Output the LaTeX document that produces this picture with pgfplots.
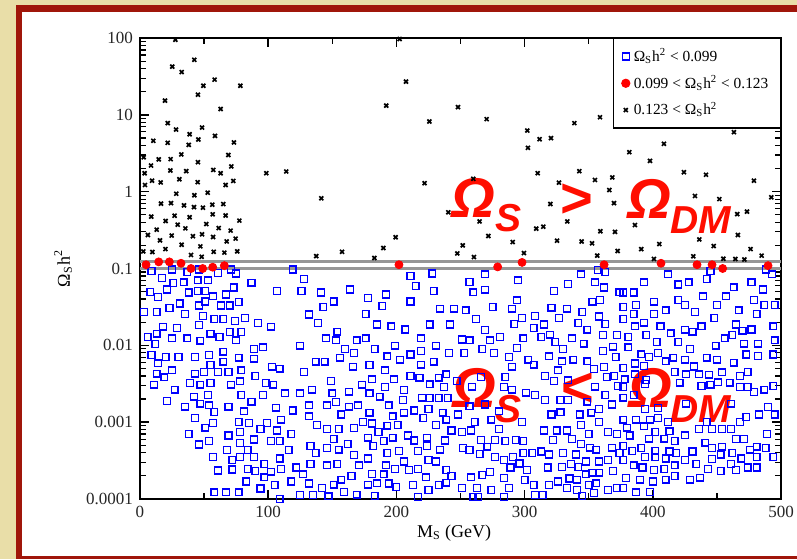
\documentclass[border=0pt]{standalone}
\usepackage{fontspec}
\setmainfont{Liberation Serif}
\newfontfamily\bigsans{Liberation Sans}
\usepackage{pgfplots}
\pgfplotsset{compat=1.18}
\definecolor{beige}{RGB}{233,222,168}
\definecolor{framered}{RGB}{160,22,10}
\definecolor{bigred}{RGB}{255,14,0}
\definecolor{linegray}{RGB}{150,150,150}
\begin{document}
\begin{tikzpicture}
\fill[beige] (0,0) rectangle (398.5pt,279.5pt);
\fill[framered] (8pt,0) rectangle (398.5pt,277pt);
\fill[white] (11pt,1.5pt) rectangle (398.5pt,273.5pt);
\begin{axis}[
  at={(70pt,30pt)}, anchor=south west,
  scale only axis, width=320.5pt, height=230.5pt,
  xmin=0, xmax=500, ymin=1e-4, ymax=100, ymode=log,
  xtick={0,100,200,300,400,500}, xticklabels={0,100,200,300,400,500},
  minor xtick={50,150,250,350,450},
  ytick={1e-4,1e-3,1e-2,1e-1,1,10,100},
  yticklabels={0.0001,0.001,0.01,0.1,1,10,100},
  minor ytick={2e-4,3e-4,4e-4,5e-4,6e-4,7e-4,8e-4,9e-4,2e-3,3e-3,4e-3,5e-3,6e-3,7e-3,8e-3,9e-3,0.02,0.03,0.04,0.05,0.06,0.07,0.08,0.09,0.2,0.3,0.4,0.5,0.6,0.7,0.8,0.9,2,3,4,5,6,7,8,9,20,30,40,50,60,70,80,90},
  tick align=inside, tick pos=both,
  major tick length=4.5pt, minor tick length=3pt,
  major tick style={black, line width=0.8pt},
  minor tick style={black, line width=0.6pt},
  axis line style={line width=1pt},
  tick label style={font=\fontsize{8.5}{9}\selectfont, text=black!85},
  xlabel={M\textsubscript{S} (GeV)},
  ylabel={Ω\textsubscript{S}h\textsuperscript{2}},
  every axis x label/.style={at={(axis description cs:0.49,-0.074)}, anchor=center, font=\fontsize{9}{10}\selectfont},
  every axis y label/.style={at={(axis description cs:-0.12,0.5)}, rotate=90, anchor=center, font=\fontsize{9}{10}\selectfont},
  legend style={at={(1,1)}, anchor=north east, draw=black, line width=0.6pt, font=\fontsize{7.7}{8}\selectfont, row sep=1.5pt, inner xsep=4pt, inner ysep=3pt},
  legend cell align=left,
]
\addplot[forget plot, linegray, line width=1.4pt] coordinates {(0,0.099) (500,0.099)};
\addplot[forget plot, linegray, line width=1.4pt] coordinates {(0,0.123) (500,0.123)};
% blue: Omega h^2 < 0.099
\addplot[only marks, mark=square, mark size=1.7pt, blue, mark options={line width=0.65pt}] coordinates {
(9,9.23e-2) (25,9.7e-2) (37,9.0e-2) (46,9.7e-2) (61,8.79e-2) (71,9.7e-2) (75,8.6e-2) (119,9.7e-2)
(17,7.57e-2) (26,6.44e-2) (34,6.6e-2) (45,7.0e-2) (53,7.0e-2) (87,6.55e-2)
(8,4.92e-2) (14,4.28e-2) (21,5.33e-2) (38,4.87e-2) (45,5.07e-2) (51,5.07e-2) (57,4.33e-2) (67,4.59e-2) (73,5.66e-2) (107,5.07e-2)
(23,3.08e-2) (31,3.5e-2) (46,3.3e-2) (51,3.72e-2) (63,3.3e-2) (70,3.3e-2) (77,3.65e-2)
(3,2.7e-2) (13,2.7e-2) (35,2.57e-2) (49,2.42e-2) (58,2.19e-2) (65,2.19e-2) (74,2.08e-2) (82,2.28e-2) (92,1.96e-2) (102,1.75e-2)
(18,1.75e-2) (29,1.67e-2) (46,1.85e-2)
(6,1.29e-2) (13,1.42e-2) (25,1.23e-2) (37,1.23e-2) (47,1.15e-2) (55,1.42e-2) (62,1.29e-2) (70,1.5e-2) (75,1.16e-2) (79,1.5e-2)
(12,1.04e-2) (89,8.97e-3) (96,9.4e-3)
(9,7.5e-3) (20,7.1e-3) (30,7.1e-3) (43,7.1e-3) (54,7.5e-3) (65,8.3e-3) (77,6.9e-3) (89,6.7e-3)
(14,5.83e-3) (55,5.55e-3) (65,6.13e-3) (103,5.28e-3) (109,4.97e-3)
(25,4.73e-3) (13,4.28e-3) (19,3.83e-3) (43,4.28e-3) (50,4.5e-3) (61,4.5e-3) (69,4.5e-3) (79,4.73e-3) (90,4.02e-3)
(11,3.08e-3) (39,3.24e-3) (47,3.08e-3) (55,3.24e-3) (71,3.08e-3) (78,3.4e-3) (98,3.24e-3) (104,3.08e-3)
(27,2.65e-3) (21,1.9e-3) (42,2.15e-3) (53,2.26e-3) (79,2.26e-3) (87,1.85e-3) (96,2.26e-3) (113,2.37e-3)
(35,1.59e-3) (47,1.74e-3) (54,1.66e-3) (58,1.36e-3) (69,1.59e-3) (81,1.38e-3) (106,1.55e-3) (119,1.42e-3)
(43,1.13e-3) (51,8.5e-4) (57,9.7e-4) (77,1.0e-3) (85,9.7e-4) (99,9.7e-4) (110,1.08e-3)
(38,7.06e-4) (69,6.7e-4) (78,7.5e-4) (94,8.1e-4) (107,7.8e-4) (118,6.98e-4)
(46,5.12e-4) (54,5.65e-4) (78,5.38e-4) (89,5.95e-4) (102,5.65e-4) (109,5.65e-4)
(84,4.37e-4) (68,4.37e-4) (116,4.37e-4)
(57,3.5e-4) (72,3.2e-4) (78,3.5e-4) (89,3.5e-4) (109,3.37e-4)
(61,2.35e-4) (72,2.42e-4) (84,2.45e-4) (90,2.3e-4) (97,2.87e-4) (102,2.27e-4) (110,2.45e-4) (122,2.57e-4)
(97,1.92e-4) (83,1.69e-4) (105,1.53e-4) (118,1.69e-4)
(58,1.22e-4) (67,1.22e-4) (77,1.22e-4) (94,1.37e-4)
(109,1.0e-4)
(128,7.35e-2) (126,5.07e-2) (141,4.87e-2) (164,5.33e-2) (192,4.59e-2) (178,4.11e-2) (151,3.72e-2) (143,3.14e-2) (132,2.52e-2) (139,1.96e-2) (176,2.57e-2) (189,3.24e-2) (211,3.72e-2) (211,8.0e-2) (215,5.9e-2) (228,8.6e-2) (229,5.07e-2) (234,3.0e-2) (245,3.0e-2)
(185,1.87e-2) (196,1.77e-2) (207,1.61e-2) (226,1.87e-2) (242,1.87e-2) (154,1.51e-2) (145,1.23e-2) (153,1.16e-2) (169,1.16e-2) (176,1.23e-2) (219,1.23e-2)
(125,9.9e-3) (160,8.97e-3) (167,8.0e-3) (183,8.97e-3) (199,9.9e-3) (231,9.9e-3) (219,8.4e-3) (211,7.6e-3) (241,8.0e-3) (156,6.9e-3) (193,7.2e-3) (137,6.13e-3) (144,6.13e-3) (203,6.5e-3) (229,6.13e-3)
(166,5.28e-3) (179,5.55e-3) (219,5.6e-3) (128,4.5e-3) (191,4.73e-3)
(149,3.43e-3) (173,3.08e-3) (181,3.6e-3) (198,3.6e-3) (211,4.0e-3) (218,3.8e-3) (233,3.8e-3) (239,4.2e-3) (247,3.45e-3) (226,3.1e-3) (237,2.85e-3)
(134,2.65e-3) (125,2.37e-3) (150,2.37e-3) (163,2.5e-3) (179,2.37e-3) (191,2.85e-3) (206,2.63e-3) (187,2.15e-3)
(153,1.83e-3) (132,1.66e-3) (146,1.66e-3) (163,1.59e-3) (170,1.66e-3) (194,1.66e-3) (205,1.95e-3) (220,2.08e-3) (226,2.06e-3) (233,2.06e-3) (240,2.06e-3)
(157,1.26e-3) (179,1.33e-3) (206,1.33e-3) (214,1.42e-3) (225,1.48e-3) (236,1.33e-3) (248,1.26e-3) (132,1.19e-3) (197,1.19e-3) (221,1.13e-3) (239,1.08e-3)
(138,9.23e-4) (146,8.2e-4) (155,8.2e-4) (167,8.45e-4) (174,1.0e-3) (181,9.6e-4) (193,9.0e-4) (201,9.23e-4) (186,7.4e-4) (231,9.23e-4) (243,7.8e-4)
(209,6.7e-4) (214,5.77e-4) (238,5.77e-4) (151,6.0e-4) (178,6.3e-4) (190,5.7e-4) (197,6.3e-4) (224,6.3e-4)
(133,4.92e-4) (137,3.98e-4) (146,4.6e-4) (155,4.4e-4) (162,5.17e-4) (182,4.87e-4) (202,4.2e-4) (217,4.2e-4) (224,4.92e-4) (234,4.4e-4)
(167,3.72e-4) (193,3.98e-4) (178,3.37e-4) (206,3.08e-4) (225,3.24e-4) (231,3.08e-4)
(133,2.87e-4) (146,2.75e-4) (154,2.87e-4) (171,2.75e-4) (192,2.75e-4) (199,2.45e-4) (210,2.37e-4) (217,2.45e-4) (239,2.37e-4)
(127,2.1e-4) (165,2.0e-4) (181,2.12e-4) (190,2.1e-4) (223,1.92e-4) (243,1.98e-4) (157,1.79e-4)
(132,1.59e-4) (151,1.54e-4) (178,1.54e-4) (185,1.6e-4) (194,1.59e-4) (213,1.53e-4) (233,1.53e-4) (239,1.63e-4)
(200,1.44e-4) (225,1.32e-4) (142,1.4e-4) (159,1.23e-4) (169,1.14e-4) (125,1.12e-4) (135,1.12e-4) (147,1.08e-4) (183,1.1e-4) (217,1.07e-4)
(269,8.4e-2) (257,6.7e-2) (260,4.9e-2) (269,5.3e-2) (295,7.0e-2) (294,3.85e-2) (275,3.14e-2) (290,3.0e-2) (254,2.85e-2) (262,2.2e-2) (298,2.28e-2) (308,2.42e-2) (292,1.9e-2) (269,1.58e-2) (307,1.69e-2) (315,1.87e-2)
(251,1.19e-2) (257,1.16e-2) (273,1.16e-2) (281,1.29e-2) (299,1.23e-2) (313,1.29e-2)
(253,7.94e-3) (276,8.0e-3) (267,8.97e-3) (294,9.3e-3) (288,7.1e-3) (303,6.5e-3) (307,5.6e-3) (290,5.28e-3)
(266,3.87e-3) (285,3.87e-3) (284,2.87e-3) (290,2.65e-3) (301,2.42e-3) (308,2.26e-3) (259,2.9e-3)
(257,1.61e-3) (269,1.7e-3) (280,1.38e-3) (298,1.0e-3) (261,1.0e-3) (274,1.08e-3)
(251,7.5e-4) (258,7.8e-4) (280,8.2e-4) (266,5.9e-4) (285,5.7e-4) (293,5.9e-4) (299,5.7e-4) (277,5.9e-4)
(252,4.6e-4) (257,4.37e-4) (265,3.85e-4) (271,4.8e-4) (277,3.5e-4) (284,3.24e-4) (291,3.5e-4) (296,2.9e-4) (299,4.0e-4) (306,3.95e-4)
(289,2.57e-4) (302,2.37e-4) (258,1.92e-4) (267,2.05e-4) (273,2.25e-4) (284,1.87e-4) (300,1.77e-4) (307,1.53e-4)
(251,1.4e-4) (263,1.4e-4) (274,1.32e-4) (288,1.4e-4) (260,1.07e-4) (264,1.07e-4) (284,1.07e-4) (308,1.12e-4) (314,1.12e-4)
(344,8.4e-2) (357,9.5e-2) (363,9.0e-2) (355,6.6e-2) (334,6.3e-2) (323,5.1e-2) (362,5.66e-2) (374,4.9e-2) (353,3.7e-2) (359,3.9e-2) (321,3.1e-2) (333,3.0e-2) (345,2.7e-2)
(327,2.28e-2) (358,2.37e-2) (342,1.96e-2) (349,1.6e-2) (363,1.9e-2) (320,1.38e-2) (324,1.1e-2) (330,8.97e-3) (337,1.23e-2) (346,1.05e-2) (361,1.37e-2) (372,1.37e-2) (369,9.6e-3) (361,8.4e-3) (371,7.1e-3)
(319,7.2e-3) (329,6.2e-3) (338,6.5e-3) (349,6.2e-3) (354,4.9e-3) (362,5.25e-3) (326,4.73e-3) (316,4.0e-3) (323,3.45e-3) (334,3.5e-3) (364,3.87e-3) (370,4.0e-3)
(355,2.9e-3) (363,2.26e-3) (373,2.95e-3) (328,1.95e-3) (334,1.95e-3) (349,1.85e-3) (358,1.48e-3) (368,1.7e-3) (316,1.93e-3)
(321,1.26e-3) (328,1.34e-3) (343,1.26e-3) (352,1.33e-3) (358,1.0e-3) (344,9.23e-4)
(315,7.8e-4) (325,7.8e-4) (333,7.8e-4) (350,7.06e-4) (365,7.4e-4) (372,7.06e-4)
(322,5.9e-4) (337,6.0e-4) (344,5.17e-4) (351,4.65e-4) (356,4.4e-4) (368,4.65e-4) (374,4.0e-4)
(313,4.15e-4) (319,3.8e-4) (330,4.0e-4) (340,3.8e-4) (348,3.08e-4) (358,3.08e-4) (365,3.24e-4) (336,2.87e-4) (342,2.6e-4) (318,2.57e-4) (329,2.6e-4)
(348,2.1e-4) (353,2.2e-4) (358,2.2e-4) (369,2.3e-4) (341,1.79e-4) (335,1.85e-4) (350,1.53e-4) (356,1.6e-4) (333,1.4e-4) (341,1.32e-4) (365,1.32e-4) (372,1.4e-4) (319,1.53e-4) (326,1.69e-4) (345,1.1e-4) (354,1.2e-4)
(412,8.4e-2) (445,9.3e-2) (488,9.7e-2) (493,8.4e-2) (393,6.6e-2) (420,6.2e-2) (428,6.6e-2) (442,7.3e-2) (477,6.6e-2) (463,5.7e-2) (486,5.33e-2) (377,4.87e-2) (385,4.87e-2) (439,4.33e-2) (457,4.33e-2)
(420,3.9e-2) (401,3.7e-2) (425,3.35e-2) (450,3.35e-2) (479,3.9e-2) (487,3.35e-2) (495,3.35e-2) (377,3.14e-2) (387,3.35e-2) (410,2.85e-2) (401,2.57e-2) (433,2.7e-2) (467,2.85e-2)
(377,2.19e-2) (385,2.57e-2) (448,2.28e-2) (481,2.57e-2) (393,1.98e-2) (406,1.77e-2) (425,1.6e-2) (431,1.51e-2) (438,1.77e-2) (465,1.87e-2) (470,1.55e-2) (477,1.61e-2) (494,1.77e-2) (386,1.77e-2) (414,1.43e-2)
(381,1.29e-2) (395,1.36e-2) (456,1.23e-2) (462,1.37e-2) (403,1.1e-2) (420,1.1e-2) (471,1.05e-2) (482,1.05e-2) (495,1.16e-2)
(449,9.9e-3) (381,9.4e-3) (429,8.97e-3) (391,7.65e-3) (397,7.0e-3) (404,8.0e-3) (410,6.2e-3) (416,6.9e-3) (425,6.5e-3) (442,6.9e-3) (450,6.5e-3) (463,5.95e-3) (473,7.6e-3) (482,7.23e-3) (494,7.6e-3)
(377,5.05e-3) (386,5.8e-3) (393,5.4e-3) (432,5.3e-3) (386,4.2e-3) (378,3.6e-3) (395,3.55e-3) (417,4.5e-3) (426,4.2e-3) (436,4.2e-3) (444,4.15e-3) (454,4.45e-3) (468,4.0e-3) (474,4.5e-3)
(421,3.27e-3) (438,2.95e-3) (445,3.08e-3) (451,3.3e-3) (460,3.27e-3) (468,2.85e-3) (474,2.85e-3) (494,2.95e-3) (377,2.85e-3) (394,3.15e-3)
(377,2.08e-3) (385,2.26e-3) (394,1.48e-3) (404,1.53e-3) (426,1.74e-3) (461,1.74e-3) (479,2.48e-3) (487,2.65e-3) (490,1.57e-3) (495,1.26e-3)
(377,1.08e-3) (387,1.08e-3) (398,1.08e-3) (404,1.13e-3) (412,1.0e-3) (442,1.0e-3) (468,1.0e-3) (473,1.17e-3) (483,1.26e-3)
(380,8.5e-4) (393,8.8e-4) (402,7.5e-4) (413,7.6e-4) (425,6.75e-4) (436,8.2e-4) (446,8.2e-4) (454,8.2e-4) (461,8.2e-4) (489,7.06e-4)
(382,6.7e-4) (397,6.1e-4) (409,6.1e-4) (417,5.7e-4) (441,5.4e-4) (465,6.0e-4) (471,6.0e-4)
(377,4.92e-4) (384,4.2e-4) (391,4.6e-4) (402,4.2e-4) (413,4.15e-4) (418,3.95e-4) (431,4.15e-4) (446,4.6e-4) (454,4.8e-4) (462,3.98e-4) (476,4.4e-4) (481,4.8e-4) (488,4.6e-4)
(377,3.2e-4) (394,3.5e-4) (402,3.5e-4) (410,3.37e-4) (425,3.24e-4) (434,2.87e-4) (446,3.3e-4) (453,3.8e-4) (469,3.37e-4) (481,3.5e-4) (494,3.5e-4)
(385,2.75e-4) (392,2.57e-4) (401,2.37e-4) (409,2.45e-4) (417,2.75e-4) (443,2.45e-4) (453,2.3e-4) (461,2.87e-4) (465,2.37e-4) (474,2.57e-4) (481,2.57e-4)
(379,1.87e-4) (390,1.79e-4) (400,1.69e-4) (410,1.79e-4) (417,1.98e-4) (429,1.79e-4) (437,1.9e-4)
(377,1.4e-4) (387,1.22e-4) (398,1.24e-4)
};
\addlegendentry{Ω\textsubscript{S}h\textsuperscript{2} < 0.099}
% red: 0.099 < Omega h^2 < 0.123
\addplot[only marks, mark=*, mark size=2pt, red, mark options={draw=red, fill=red}] coordinates {
(4.7,0.112) (14.6,0.122) (22.9,0.122) (32.0,0.117) (39.8,0.1) (48.9,0.1) (56.7,0.104) (65.8,0.109) (202.0,0.112) (279.0,0.105) (298.0,0.12) (362.0,0.112) (406.4,0.117) (434.5,0.112) (446.2,0.112) (454.5,0.1) (489.9,0.109)
};
\addlegendentry{0.099 < Ω\textsubscript{S}h\textsuperscript{2} < 0.123}
% black: 0.123 < Omega h^2
\addplot[only marks, mark=x, mark size=1.4pt, black, mark options={line width=0.85pt}] coordinates {
(27.6,95) (42.4,52) (25.2,42.4) (32.5,36) (58.2,28.7) (49.4,23.9) (78.3,23.9) (45.2,18.3) (19.5,15.3) (62.9,11.9)
(21.6,7.8) (28.1,6.44) (48.4,6.84) (38.7,5.6) (45.5,4.78) (58.5,5.33) (38.0,4.07) (10.4,4.59) (21.6,4.33) (73.3,4.37)
(2.9,2.8) (14.6,2.63) (23.9,2.65) (32.2,3.05) (68.9,3.0) (8.6,2.19) (45.2,2.42) (71.2,2.13) (23.7,1.89) (36.1,1.85) (57.2,1.92) (62.9,1.74) (98.5,1.74) (114.1,1.83) (3.6,1.74)
(9.4,1.39) (16.1,1.32) (30.7,1.45) (45.0,1.33) (66.8,1.22) (72.8,1.38) (3.9,1.22)
(28.3,0.94) (42.4,0.897) (52.8,0.97) (141.4,0.82) (16.4,0.698) (24.2,0.71) (34.3,0.663) (42.1,0.63) (49.1,0.619) (56.4,0.677) (65.0,0.69)
(8.8,0.473) (27.0,0.487) (38.7,0.464) (56.7,0.507) (66.8,0.49) (77.5,0.42) (20.0,0.415) (29.4,0.372) (35.4,0.333) (51.7,0.379) (61.4,0.336) (70.7,0.311) (13.0,0.32)
(6.2,0.273) (24.7,0.268) (41.3,0.263) (48.4,0.279) (57.0,0.257) (74.6,0.245) (15.6,0.232) (67.6,0.225) (32.5,0.204) (47.1,0.194) (19.8,0.179)
(2.6,0.167) (9.6,0.164) (57.5,0.165) (65.8,0.161) (75.9,0.167) (39.8,0.15) (48.1,0.142) (137.5,0.145)
(202.5,97) (207.5,27.1) (192.1,13.2) (248.0,12.6) (225.7,8.2) (270.4,8.79) (302.1,6.25) (311.7,4.82) (302.6,3.72) (310.2,1.74) (222.0,1.29) (260.0,1.47) (240.5,0.538) (264.9,0.41) (271.7,0.265) (290.7,0.221) (309.1,0.33) (314.6,0.35) (199.4,0.255) (189.8,0.185) (157.6,0.165) (182.8,0.137) (251.7,0.2) (247.5,0.157) (260.5,0.141) (299.5,0.159)
(358.8,9.3) (338.8,7.8) (320.6,4.97) (463.3,5.95) (408.7,4.2) (381.7,3.27) (397.8,2.52) (342.7,1.85) (424.3,1.79) (441.5,1.66) (354.9,1.42) (368.4,1.53) (478.9,1.39) (326.8,1.31) (366.1,1.05) (432.9,0.879) (451.9,0.8) (320.1,0.69) (369.7,0.71) (492.4,0.845) (465.9,0.51) (473.5,0.55) (333.3,0.41) (386.1,0.368) (359.1,0.305) (370.5,0.3) (325.3,0.23) (344.5,0.225) (352.6,0.213) (436.3,0.239) (466.4,0.273) (391.0,0.179) (405.1,0.208) (372.6,0.169) (447.5,0.196) (476.3,0.179) (484.9,0.147) (356.7,0.147) (400.9,0.133) (431.6,0.144) (464.4,0.133) (471.4,0.131) (455.0,0.134)
};
\addlegendentry{0.123 < Ω\textsubscript{S}h\textsuperscript{2}}
% big annotations
\tikzset{bigtxt/.style={anchor=base west, inner sep=0pt, text=bigred, font=\bigsans\bfseries\itshape\fontsize{28}{28}\selectfont},
         smalltxt/.style={anchor=base west, inner sep=0pt, text=bigred, font=\bigsans\bfseries\itshape\fontsize{19.5}{19.5}\selectfont}}
\node[bigtxt] at (axis cs:242.6,0.457) {Ω};
\node[smalltxt] at (axis cs:276.9,0.30) {S};
\node[bigtxt] at (axis cs:326.8,0.457) {>};
\node[bigtxt] at (axis cs:379.9,0.444) {Ω};
\node[smalltxt] at (axis cs:413.4,0.283) {DM};
\node[bigtxt] at (axis cs:243.4,1.53e-3) {Ω};
\node[smalltxt] at (axis cs:276.9,9.8e-4) {S};
\node[bigtxt] at (axis cs:327.6,1.58e-3) {<};
\node[bigtxt] at (axis cs:380.7,1.53e-3) {Ω};
\node[smalltxt] at (axis cs:413.4,9.8e-4) {DM};
\end{axis}
\pgfresetboundingbox
\useasboundingbox (0,0) rectangle (398.5pt,279.5pt);
\end{tikzpicture}
\end{document}
